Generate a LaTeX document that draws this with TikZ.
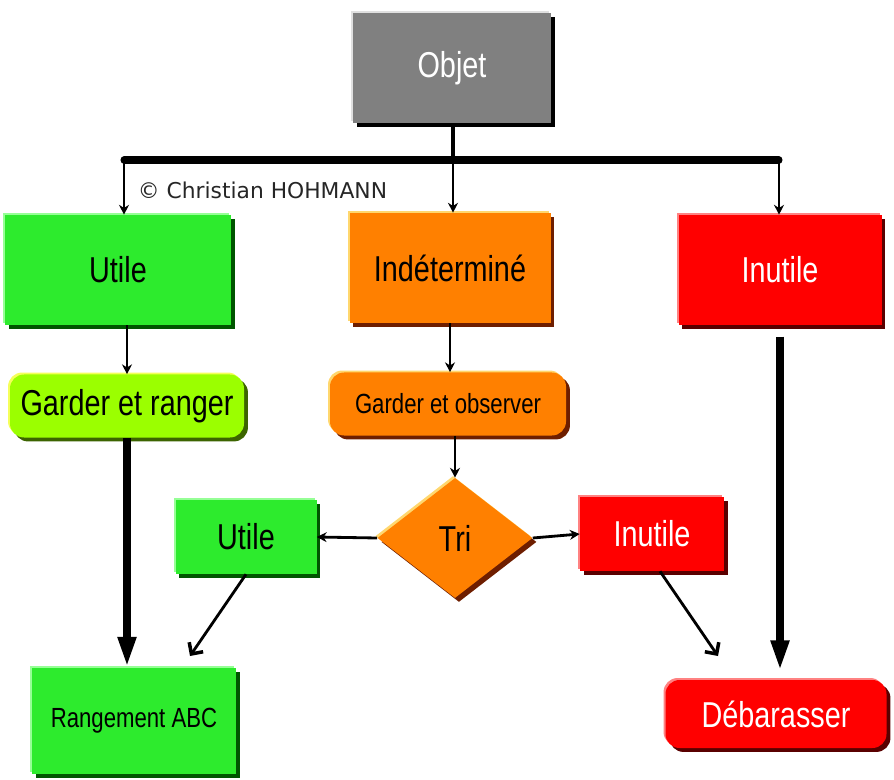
\documentclass[tikz,border=0pt]{standalone}
\usepackage{fontspec}
\setmainfont{Liberation Sans}
\newfontfamily\lblfont[FakeStretch=0.8]{Liberation Sans}
\newfontfamily\cpfont{DejaVu Sans}
\usetikzlibrary{shapes.geometric,shadows,arrows.meta}

\definecolor{objgray}{RGB}{128,128,128}
\definecolor{okgreen}{RGB}{45,235,45}
\definecolor{okgreendk}{RGB}{0,85,0}
\definecolor{okgreenlt}{RGB}{150,255,150}
\definecolor{midorange}{RGB}{255,128,0}
\definecolor{midorangedk}{RGB}{110,30,0}
\definecolor{midorangelt}{RGB}{255,215,110}
\definecolor{badred}{RGB}{255,0,0}
\definecolor{badreddk}{RGB}{90,0,0}
\definecolor{badredlt}{RGB}{255,130,130}
\definecolor{limegreen}{RGB}{155,255,0}
\definecolor{limegreendk}{RGB}{60,100,0}
\definecolor{limegreenlt}{RGB}{245,255,90}

\tikzset{
  face/.style n args={3}{draw=none, inner sep=0pt, align=center, fill=#1,
    general shadow={fill=#3, shadow xshift=-1.4pt, shadow yshift=1.4pt},
    general shadow={fill=#2, shadow xshift=2.8pt, shadow yshift=-2.8pt}},
  bigtxt/.style={font=\lblfont\fontsize{25.6}{28}\selectfont},
  smalltxt/.style={font=\lblfont\fontsize{19.7}{22}\selectfont},
  drop/.style={line width=2pt, -{Stealth[length=7pt, width=7pt]}},
  fat/.style={line width=5.5pt, -{Triangle[length=22pt, width=12pt]}},
  slant/.style={line width=2pt, -{Straight Barb[length=6pt, width=12pt, line width=2.5pt]}}
}

\begin{document}
\begin{tikzpicture}[x=0.025cm, y=-0.025cm]
		%%%%% START %%%%%
		\useasboundingbox (0,0) rectangle (894,780);
		
		\node[face={objgray}{black}{black!12}, bigtxt, text=white, minimum width=198*0.025cm, minimum height=110*0.025cm] (objet) at (452,68) {Objet};
		
		\node[face={okgreen}{okgreendk}{okgreenlt}, bigtxt, minimum width=226*0.025cm, minimum height=110*0.025cm] (utile) at (118,270) {Utile};
		\node[face={midorange}{midorangedk}{midorangelt}, bigtxt, minimum width=201*0.025cm, minimum height=110*0.025cm] (indet) at (450,268) {Indéterminé};
		\node[face={badred}{badreddk}{badredlt}, bigtxt, text=white, minimum width=203*0.025cm, minimum height=110*0.025cm] (inutile) at (780,270) {Inutile};
		
		\node[anchor=west, font=\cpfont\fontsize{15.5}{17}\selectfont, text=black!85] (copy) at (133,190) {© Christian HOHMANN};
		
		\node[face={limegreen}{limegreendk}{limegreenlt}, bigtxt, rounded corners=10pt, minimum width=234*0.025cm, minimum height=63*0.025cm] (garderR) at (127,406) {Garder et ranger};
		\node[face={midorange}{midorangedk}{midorangelt}, smalltxt, rounded corners=10pt, minimum width=236*0.025cm, minimum height=63*0.025cm] (garderO) at (448,404) {Garder et observer};
		
		\node[diamond, face={midorange}{midorangedk}{midorangelt}, bigtxt, minimum width=155*0.025cm, minimum height=120*0.025cm] (tri) at (455,538) {Tri};
		\node[face={okgreen}{okgreendk}{okgreenlt}, bigtxt, minimum width=141*0.025cm, minimum height=74*0.025cm] (utileB) at (246,537) {Utile};
		\node[face={badred}{badreddk}{badredlt}, bigtxt, text=white, minimum width=144*0.025cm, minimum height=74*0.025cm] (inutileB) at (652,534) {Inutile};
		
		\node[face={okgreen}{okgreendk}{okgreenlt}, smalltxt, minimum width=204*0.025cm, minimum height=106*0.025cm] (rangement) at (134,721) {Rangement ABC};
		\node[face={badred}{badreddk}{badredlt}, bigtxt, text=white, rounded corners=10pt, minimum width=221*0.025cm, minimum height=68*0.025cm] (debarasser) at (776,714) {Débarasser};
		
		\coordinate (barL) at (124,160);
		\coordinate (barM) at (453,160);
		\coordinate (barR) at (779,160);
		\coordinate (rgIn) at (190,656);
		\coordinate (dbIn) at (718,656);
		
		\draw[line width=3pt] (objet.south -| barM) -- (barM);
		\draw[line width=5pt, line cap=round] (barL) -- (barR);
		\draw[drop] (barL) -- (barL |- utile.north);
		\draw[drop] (barM) -- (barM |- indet.north);
		\draw[drop] (barR) -- (barR |- inutile.north);
		
		\draw[drop] (garderR.north |- utile.south) -- (garderR.north);
		\draw[drop] (indet.south) -- (indet.south |- garderO.north);
		\draw[drop] (tri.north |- garderO.south) -- (tri.north);
		\draw[drop] (tri.west) -- (utileB.east);
		\draw[drop] (tri.east) -- (inutileB.west);
		
		\draw[fat] (garderR.south) -- (garderR.south |- rangement.north);
		\draw[fat, shorten <=8pt, shorten >=6pt] (inutile.south) -- (inutile.south |- debarasser.north);
		\draw[slant] (utileB.south) -- (rgIn);
		\draw[slant] (inutileB.south) ++(8,0) -- (dbIn);
		%%%%% END %%%%%
	\end{tikzpicture}
\end{document}
